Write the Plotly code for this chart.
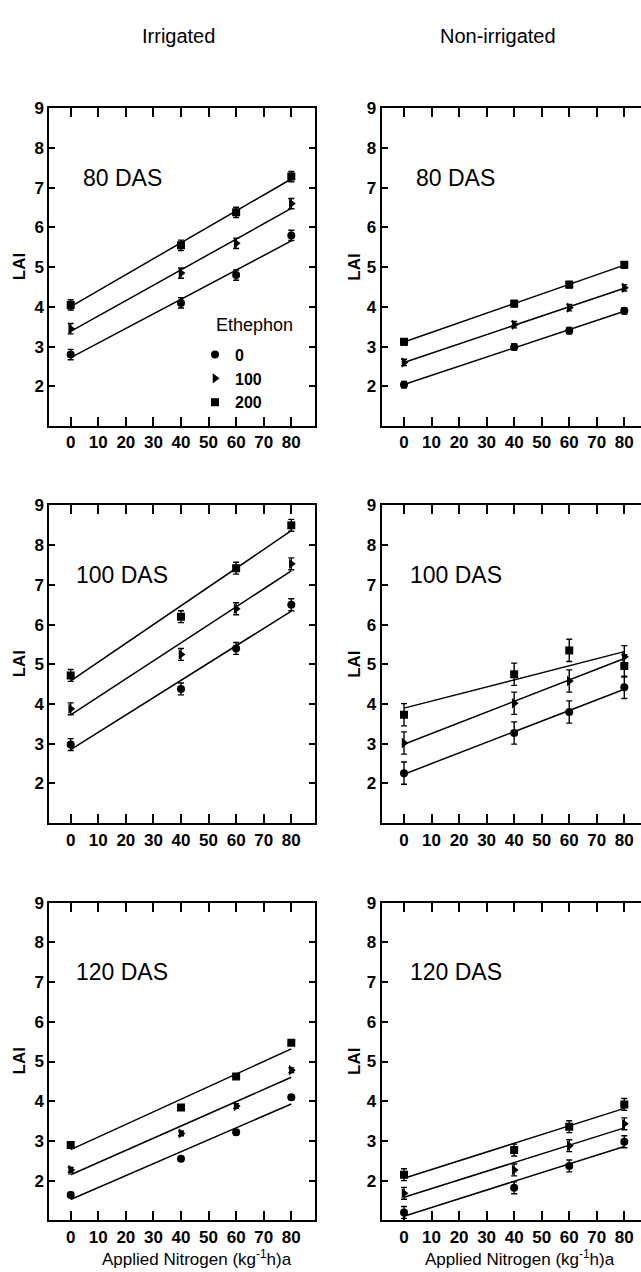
import numpy as np
import plotly.graph_objects as go

# Applied nitrogen levels (kg/ha) and ethephon rates
nitrogen = [0, 40, 60, 80]
ethephon_levels = ["0", "100", "200"]
x_ticks = [0, 10, 20, 30, 40, 50, 60, 70, 80]
y_ticks = [2, 3, 4, 5, 6, 7, 8, 9]

# LAI means, irrigated
irr80_e0 = [2.80, 4.10, 4.80, 5.80]
irr80_e100 = [3.45, 4.85, 5.60, 6.60]
irr80_e200 = [4.05, 5.55, 6.38, 7.28]
irr100_e0 = [2.98, 4.38, 5.40, 6.50]
irr100_e100 = [3.88, 5.25, 6.40, 7.53]
irr100_e200 = [4.72, 6.20, 7.42, 8.50]
irr120_e0 = [1.64, 2.55, 3.22, 4.10]
irr120_e100 = [2.27, 3.19, 3.88, 4.78]
irr120_e200 = [2.90, 3.84, 4.62, 5.47]

# LAI means, non-irrigated
non80_e0 = [2.04, 2.99, 3.40, 3.90]
non80_e100 = [2.60, 3.55, 3.98, 4.48]
non80_e200 = [3.12, 4.08, 4.56, 5.06]
non100_e0 = [2.26, 3.27, 3.80, 4.42]
non100_e100 = [3.02, 4.02, 4.58, 5.19]
non100_e200 = [3.73, 4.75, 5.35, 4.96]
non120_e0 = [1.20, 1.82, 2.37, 2.98]
non120_e100 = [1.68, 2.27, 2.88, 3.43]
non120_e200 = [2.15, 2.77, 3.36, 3.92]

# Standard errors
irr80_se = [0.13, 0.13, 0.13, 0.13]
irr100_se = [0.15, 0.15, 0.15, 0.15]
irr120_se = [0.06, 0.06, 0.06, 0.06]
non80_se = [0.08, 0.08, 0.08, 0.08]
non100_se = [0.28, 0.28, 0.28, 0.28]
non120_se = [0.15, 0.15, 0.15, 0.15]

panels = [
    ("80 DAS", [irr80_e0, irr80_e100, irr80_e200], irr80_se, 0, 0),
    ("80 DAS", [non80_e0, non80_e100, non80_e200], non80_se, 0, 1),
    ("100 DAS", [irr100_e0, irr100_e100, irr100_e200], irr100_se, 1, 0),
    ("100 DAS", [non100_e0, non100_e100, non100_e200], non100_se, 1, 1),
    ("120 DAS", [irr120_e0, irr120_e100, irr120_e200], irr120_se, 2, 0),
    ("120 DAS", [non120_e0, non120_e100, non120_e200], non120_se, 2, 1),
]

W, H = 641, 1272
FONT = "Arial, Liberation Sans, sans-serif"
symbols = ["circle", "triangle-right", "square"]
sizes = [8, 9, 8]

# column pixel extents and x ranges; row pixel extents
cols = [(49.3, 315.0, [-7.76, 88.6]), (381.7, 641.0, [-8.1, 86.06])]
rows = [(100, 420), (500, 820), (900, 1220)]

fig = go.Figure()
layout = {}
annotations = []

for i, (label, series, se, r, c) in enumerate(panels, start=1):
    xa = "x" if i == 1 else f"x{i}"
    ya = "y" if i == 1 else f"y{i}"
    x0, x1, xr = cols[c]
    y0, y1 = rows[r]
    xdom = [x0 / W, x1 / W]
    ydom = [1 - y1 / H, 1 - y0 / H]

    for k, vals in enumerate(series):
        fig.add_trace(go.Scatter(
            x=nitrogen, y=vals, mode="markers", xaxis=xa, yaxis=ya,
            name=ethephon_levels[k], legendgroup=ethephon_levels[k],
            showlegend=(i == 1),
            marker=dict(symbol=symbols[k], size=sizes[k], color="black"),
            error_y=dict(type="data", array=se, color="black",
                         thickness=1.4, width=3),
        ))
        coef = np.polyfit(nitrogen, vals, 1)
        xf = [min(nitrogen), max(nitrogen)]
        fig.add_trace(go.Scatter(
            x=xf, y=np.polyval(coef, xf), mode="lines", xaxis=xa, yaxis=ya,
            showlegend=False, hoverinfo="skip",
            line=dict(color="black", width=1.5),
        ))

    xkey = "xaxis" if i == 1 else f"xaxis{i}"
    ykey = "yaxis" if i == 1 else f"yaxis{i}"
    layout[xkey] = dict(
        domain=xdom, anchor=ya, range=xr, tickvals=x_ticks,
        ticks="inside", ticklen=9, tickwidth=1.5, tickcolor="black",
        showline=True, linecolor="black", linewidth=2, mirror="ticks",
        showgrid=False, zeroline=False, ticklabelstandoff=0,
        tickfont=dict(family=FONT, size=17, color="black", weight="bold"),
    )
    layout[ykey] = dict(
        domain=ydom, anchor=xa, range=[1, 9], tickvals=y_ticks,
        ticks="inside", ticklen=6, tickwidth=1.5, tickcolor="black",
        showline=True, linecolor="black", linewidth=2,
        mirror=("ticks" if c == 0 else False),
        showgrid=False, zeroline=False,
        tickfont=dict(family=FONT, size=17, color="black", weight="bold"),
    )

    annotations.append(dict(
        x=18.7, y=7.25, xref=xa, yref=ya, text=label, showarrow=False,
        xanchor="center", yanchor="middle",
        font=dict(family=FONT, size=23, color="black"),
    ))
    annotations.append(dict(
        x=(19 if c == 0 else 354.5) / W, y=1 - (y0 + y1) / 2 / H,
        xref="paper", yref="paper", text="LAI", textangle=-90,
        showarrow=False, xanchor="center", yanchor="middle",
        font=dict(family=FONT, size=17, color="black", weight="bold"),
    ))
    if r == 2:
        annotations.append(dict(
            x=(197 if c == 0 else 520) / W, y=1 - 1271 / H,
            xref="paper", yref="paper",
            text="Applied Nitrogen (kg<sup>-1</sup>h)a",
            showarrow=False, xanchor="center", yanchor="bottom",
            font=dict(family=FONT, size=17, color="black"),
        ))

# column headings
annotations.append(dict(x=178 / W, y=1 - 27 / H, xref="paper", yref="paper",
                        text="Irrigated", showarrow=False,
                        xanchor="center", yanchor="middle",
                        font=dict(family=FONT, size=20, color="black")))
annotations.append(dict(x=498 / W, y=1 - 27 / H, xref="paper", yref="paper",
                        text="Non-irrigated", showarrow=False,
                        xanchor="center", yanchor="middle",
                        font=dict(family=FONT, size=20, color="black")))
# legend heading
annotations.append(dict(x=66.7, y=3.55, xref="x", yref="y", text="Ethephon",
                        showarrow=False, xanchor="center", yanchor="middle",
                        font=dict(family=FONT, size=18, color="black")))

fig.update_layout(
    width=W, height=H, margin=dict(l=0, r=0, t=0, b=0),
    paper_bgcolor="white", plot_bgcolor="white",
    showlegend=True,
    legend=dict(x=195 / W, y=1 - 331 / H, xanchor="left", yanchor="top",
                bgcolor="rgba(0,0,0,0)", tracegroupgap=0,
                font=dict(family=FONT, size=16, color="black", weight="bold")),
    annotations=annotations,
    **layout,
)

fig.write_html("out.html")
